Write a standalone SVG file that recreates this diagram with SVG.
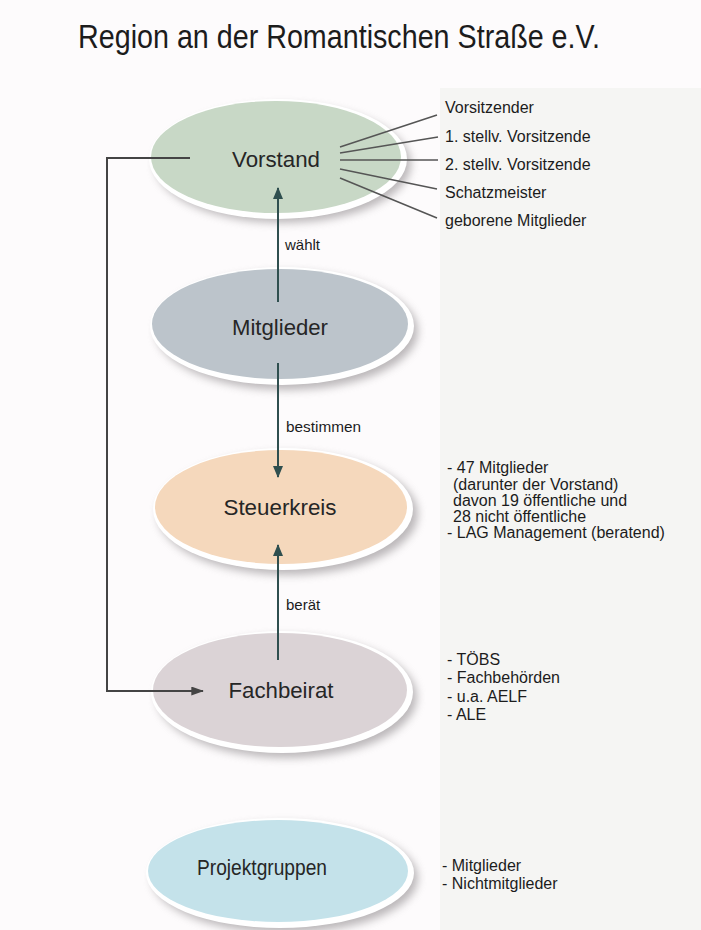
<svg xmlns="http://www.w3.org/2000/svg" width="701" height="930" viewBox="0 0 701 930">
<defs>
<style>
.t{font-family:"Liberation Sans",Arial,sans-serif;fill:#1c1c1c}
.node{font-size:22px;text-anchor:middle;fill:#262626}
.small{font-size:16px}
.lbl{font-size:15px}
.rim{fill:#ffffff}
.shadow{fill:#8f8a8d;opacity:0.6;filter:url(#blur)}
.spoke{stroke:#555;stroke-width:1.5;fill:none}
.conn{stroke:#2f4f4f;stroke-width:2;fill:none}
.loop{stroke:#444;stroke-width:2;fill:none}
</style>
<filter id="blur" x="-20%" y="-20%" width="140%" height="140%"><feGaussianBlur stdDeviation="4"/></filter>
<marker id="ah" viewBox="0 0 12 10" refX="11" refY="5" markerWidth="12" markerHeight="10" markerUnits="userSpaceOnUse" orient="auto"><path d="M0,0 L12,5 L0,10 z" fill="#2f4f4f"/></marker>
<marker id="ahg" viewBox="0 0 14 10" refX="13" refY="5" markerWidth="14" markerHeight="9" markerUnits="userSpaceOnUse" orient="auto"><path d="M0,0 L14,5 L0,10 z" fill="#444"/></marker>
</defs>
<rect x="0" y="0" width="701" height="930" fill="#fdfbfc"/>
<rect x="440" y="88" width="261" height="842" fill="#f5f5f3"/>
<text class="t" x="78" y="48" font-size="34" textLength="522" lengthAdjust="spacingAndGlyphs">Region an der Romantischen Straße e.V.</text>

<g id="vorstand">
<ellipse class="shadow" cx="283" cy="164" rx="128" ry="59"/>
<ellipse class="rim" cx="278" cy="159" rx="129" ry="60"/>
<ellipse cx="276" cy="157" rx="125" ry="56" fill="#c8d8c6"/>
<text class="t node" x="276" y="167" textLength="88" lengthAdjust="spacingAndGlyphs">Vorstand</text>
</g>
<g id="vorstand-list">
<path class="spoke" d="M340,147 L437,115 M340,153 L438,137 M340,160 L438,160 M340,169 L437,189 M340,178 L437,218"/>
<text class="t small" x="445" y="113">Vorsitzender</text>
<text class="t small" x="445" y="142">1. stellv. Vorsitzende</text>
<text class="t small" x="445" y="170">2. stellv. Vorsitzende</text>
<text class="t small" x="445" y="198">Schatzmeister</text>
<text class="t small" x="445" y="226">geborene Mitglieder</text>
</g>

<g id="mitglieder">
<ellipse class="shadow" cx="287" cy="331" rx="131" ry="59"/>
<ellipse class="rim" cx="282" cy="326" rx="132" ry="59"/>
<ellipse cx="280" cy="324" rx="128" ry="55" fill="#bcc4cb"/>
<text class="t node" x="280" y="335" textLength="96" lengthAdjust="spacingAndGlyphs">Mitglieder</text>
</g>

<g id="steuerkreis">
<ellipse class="shadow" cx="288" cy="514" rx="130" ry="61"/>
<ellipse class="rim" cx="283" cy="509" rx="130" ry="61"/>
<ellipse cx="281" cy="507" rx="126" ry="57" fill="#f5d8bc"/>
<text class="t node" x="280" y="515" textLength="113" lengthAdjust="spacingAndGlyphs">Steuerkreis</text>
</g>
<g id="steuerkreis-list">
<text class="t small" x="447" y="473">- 47 Mitglieder</text>
<text class="t small" x="453" y="490">(darunter der Vorstand)</text>
<text class="t small" x="453" y="506">davon 19 öffentliche und</text>
<text class="t small" x="453" y="522">28 nicht öffentliche</text>
<text class="t small" x="447" y="538">- LAG Management (beratend)</text>
</g>

<g id="fachbeirat">
<ellipse class="shadow" cx="287" cy="697" rx="130" ry="61"/>
<ellipse class="rim" cx="282" cy="692" rx="131" ry="61"/>
<ellipse cx="280" cy="690" rx="127" ry="57" fill="#dbd3d6"/>
<text class="t node" x="281" y="698" textLength="105" lengthAdjust="spacingAndGlyphs">Fachbeirat</text>
</g>
<g id="fachbeirat-list">
<text class="t small" x="447" y="665">- TÖBS</text>
<text class="t small" x="447" y="683">- Fachbehörden</text>
<text class="t small" x="447" y="702">- u.a. AELF</text>
<text class="t small" x="447" y="720">- ALE</text>
</g>

<g id="projektgruppen">
<ellipse class="shadow" cx="285" cy="878" rx="133" ry="55"/>
<ellipse class="rim" cx="280" cy="873" rx="134" ry="55"/>
<ellipse cx="278" cy="871" rx="130" ry="51" fill="#c4e2ea"/>
<text class="t node" x="262" y="875" textLength="130" lengthAdjust="spacingAndGlyphs">Projektgruppen</text>
</g>
<g id="projektgruppen-list">
<text class="t small" x="442" y="871">- Mitglieder</text>
<text class="t small" x="442" y="889">- Nichtmitglieder</text>
</g>

<g id="connectors">
<line class="conn" x1="278" y1="302" x2="278" y2="188" marker-end="url(#ah)"/>
<text class="t lbl" x="285" y="250">wählt</text>
<line class="conn" x1="278" y1="363" x2="278" y2="477" marker-end="url(#ah)"/>
<text class="t lbl" x="286" y="432" textLength="75" lengthAdjust="spacingAndGlyphs">bestimmen</text>
<line class="conn" x1="278" y1="660" x2="278" y2="545" marker-end="url(#ah)"/>
<text class="t lbl" x="286" y="610">berät</text>
<path class="loop" d="M190,158 L107,158 L107,691 L203,691" marker-end="url(#ahg)"/>
</g>
</svg>
